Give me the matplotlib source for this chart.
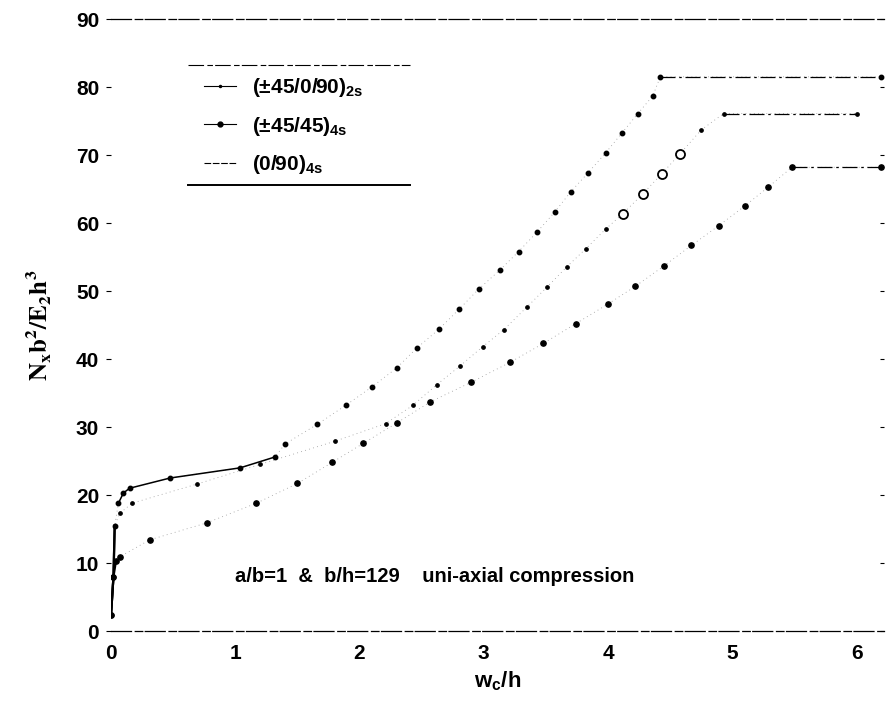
import matplotlib
matplotlib.use("Agg")
import matplotlib.pyplot as plt
from matplotlib.lines import Line2D

plt.rcParams['font.family'] = ['Liberation Sans', 'DejaVu Sans']
plt.rcParams['font.weight'] = 'bold'
plt.rcParams['axes.labelweight'] = 'bold'
plt.rcParams['mathtext.fontset'] = 'custom'
plt.rcParams['mathtext.rm'] = 'Liberation Sans:bold'
plt.rcParams['mathtext.it'] = 'Liberation Sans:italic:bold'
plt.rcParams['mathtext.bf'] = 'Liberation Sans:bold'

# (+-45/45)4s  - top curve
a_x = [0.0, 0.02, 0.03, 0.06, 0.10, 0.15, 0.475, 1.04, 1.32, 1.40, 1.66, 1.89, 2.10,
       2.30, 2.46, 2.64, 2.80, 2.96, 3.13, 3.28, 3.43, 3.57, 3.70, 3.84, 3.98, 4.11,
       4.24, 4.36, 4.42, 6.2]
a_y = [2.3, 8.0, 15.5, 18.8, 20.3, 21.0, 22.5, 24.0, 25.6, 27.5, 30.4, 33.2, 35.9,
       38.7, 41.6, 44.4, 47.3, 50.3, 53.1, 55.8, 58.7, 61.6, 64.6, 67.4, 70.3, 73.2,
       76.1, 78.7, 81.5, 81.5]

# (+-45/0/90)2s - middle curve
b_x = [0.0, 0.02, 0.03, 0.07, 0.17, 0.69, 1.20, 1.80, 2.21, 2.43, 2.62, 2.81, 2.99,
       3.16, 3.35, 3.51, 3.67, 3.82, 3.98, 4.12, 4.28, 4.43, 4.58, 4.75, 4.93, 6.0]
b_y = [2.3, 8.0, 15.5, 17.3, 18.8, 21.6, 24.5, 27.9, 30.5, 33.2, 36.2, 39.0, 41.8,
       44.3, 47.7, 50.6, 53.6, 56.2, 59.1, 61.4, 64.3, 67.2, 70.2, 73.7, 76.1, 76.1]

# (0/90)4s - lowest curve
c_x = [0.0, 0.02, 0.04, 0.07, 0.31, 0.77, 1.17, 1.50, 1.78, 2.03, 2.30, 2.57, 2.90,
       3.21, 3.48, 3.74, 4.00, 4.22, 4.45, 4.67, 4.89, 5.10, 5.29, 5.48, 6.2]
c_y = [2.3, 8.0, 10.3, 10.9, 13.4, 15.9, 18.8, 21.7, 24.8, 27.6, 30.6, 33.7, 36.6,
       39.5, 42.3, 45.2, 48.1, 50.7, 53.7, 56.7, 59.6, 62.5, 65.3, 68.2, 68.2]

labels = [r'(±45/0/90)$_{\mathrm{2s}}$', r'(±45/45)$_{\mathrm{4s}}$', r'(0/90)$_{\mathrm{4s}}$']
x_ticks = [0, 1, 2, 3, 4, 5, 6]
y_ticks = [0, 10, 20, 30, 40, 50, 60, 70, 80, 90]

fig = plt.figure(figsize=(8.9, 7.02), dpi=100)
ax = fig.add_axes([0.1247, 0.1011, 0.8685, 0.8718])

series = [(a_x, a_y, 'o', 3.2, 'black'),
          (b_x, b_y, 'o', 2.4, 'black'),
          (c_x, c_y, 'o', 3.8, 'black')]
for x, y, mk, ms, mfc in series:
    ax.plot(x, y, color='0.6', lw=0.6, ls=(0, (1, 4)), zorder=1)
    ax.plot(x, y, ls='none', marker=mk, ms=ms, color='black', mfc=mfc, zorder=3)
    ax.plot(x[:3], y[:3], color='black', lw=1.6, zorder=2)
    ax.plot(x[-2:], y[-2:], color='black', lw=0.9, ls=(0, (12, 3, 2, 3)), zorder=2)

# open circles near the top of the middle curve
ax.plot(b_x, b_y, ls='none', marker='o', ms=6.5, mfc='white', mec='black', mew=1.3,
        markevery=slice(19, 23), zorder=4)
# the slow post-buckling part of the top curve is drawn dark in the original
ax.plot(a_x[3:9], a_y[3:9], color='black', lw=1.1, zorder=2)

ax.set_xlim(0, 6.22)
ax.set_ylim(0, 90)
ax.set_xticks(x_ticks)
ax.set_yticks(y_ticks)
ax.tick_params(axis='x', length=0, pad=9, labelsize=15)
ax.tick_params(axis='y', direction='out', length=3.5, width=0.8, pad=5, labelsize=15)
ax.tick_params(axis='y', which='both', right=True, labelright=False)
for t in ax.yaxis.get_major_ticks():
    t.tick2line.set_marker(0)
    t.tick2line.set_markersize(3)

for side in ['left', 'right']:
    ax.spines[side].set_visible(False)
for side in ['top', 'bottom']:
    ax.spines[side].set_linewidth(0.9)
    ax.spines[side].set_linestyle((0, (16, 3, 6, 2)))

ax.set_xlabel(r'w$_{\mathrm{c}}$/h', fontsize=16, labelpad=5)
ax.set_ylabel(r'$\mathbf{N_xb^2/E_2h^3}$', fontsize=18, math_fontfamily='stix', labelpad=16)

ax.text(1.0, 8.0, 'a/b=1  &  b/h=129    uni-axial compression', fontsize=14.5, va='center')

handles = [Line2D([], [], color='black', lw=0.8, marker='.', ms=3),
           Line2D([], [], color='black', lw=0.8, marker='o', ms=3.5),
           Line2D([], [], color='black', lw=0.8, ls=(0, (6, 1.5)))]
leg = ax.legend(handles, labels, loc='upper left', bbox_to_anchor=(0.096, 0.937),
                prop={'size': 15, 'weight': 'bold'}, frameon=False, handlelength=1.55,
                handletextpad=0.75, labelspacing=0.74, numpoints=1)
ax.plot([0.0996, 0.387], [0.925, 0.925], transform=ax.transAxes, color='black',
        lw=0.8, ls=(0, (14, 3, 5, 2)), clip_on=False)
ax.plot([0.0996, 0.387], [0.729, 0.729], transform=ax.transAxes, color='black',
        lw=1.4, clip_on=False)

fig.savefig('out.png', dpi=100)
